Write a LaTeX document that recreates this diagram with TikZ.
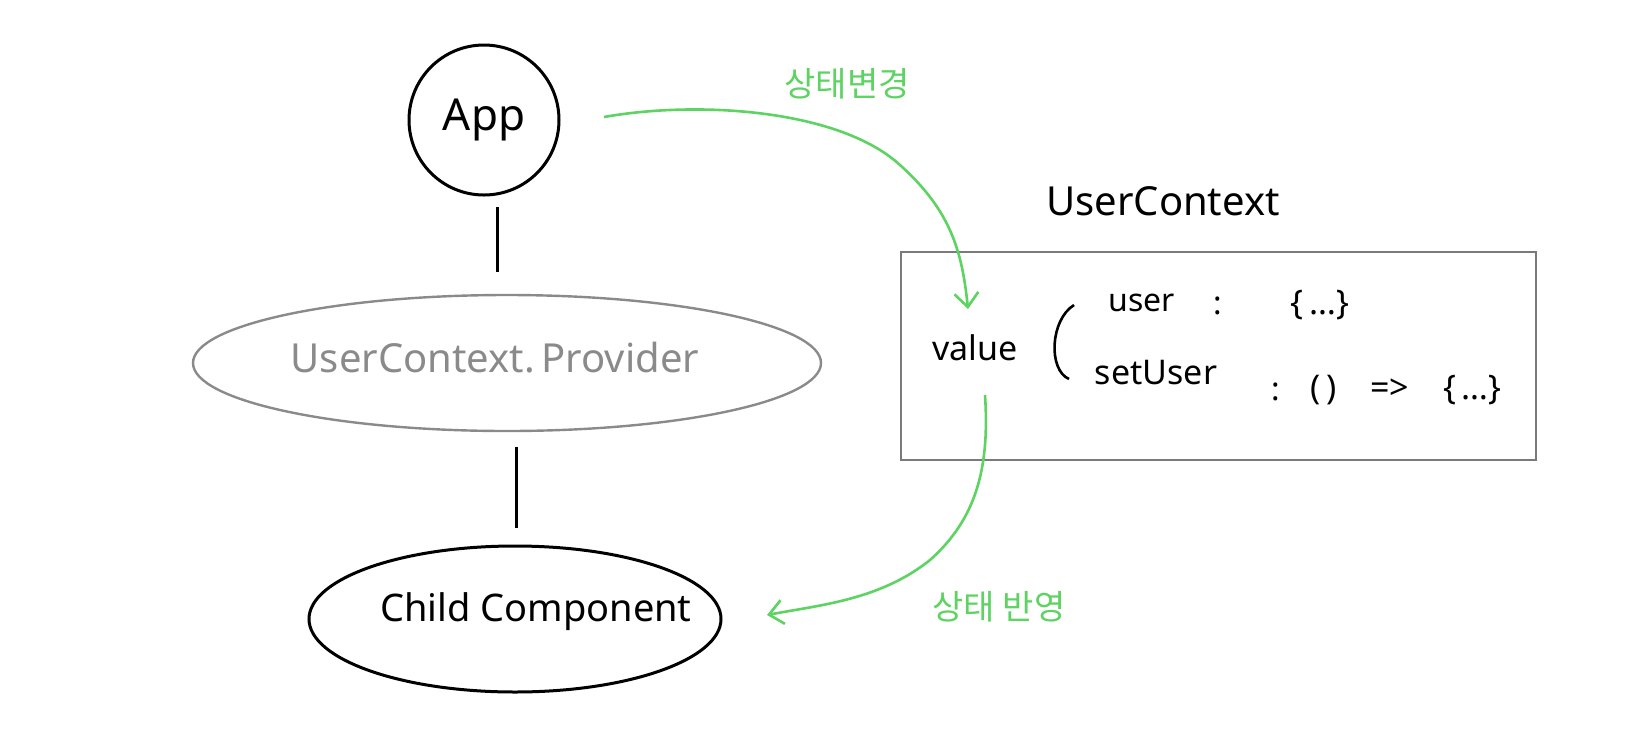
\documentclass[tikz,border=0pt]{standalone}
\usepackage{fontspec}
\setmainfont{Noto Sans}
\newfontfamily\kr{Noto Sans CJK KR}
\usetikzlibrary{arrows.meta,shapes.geometric}
\definecolor{hgreen}{HTML}{5DD362}
\definecolor{hgray}{HTML}{8A8A8A}
\definecolor{boxgray}{HTML}{7A7A7A}
\tikzset{
  blk/.style={draw=black, line width=1.5pt},
  greenarrow/.style={draw=hgreen, line width=1.3pt, -{Straight Barb[length=7pt,width=12pt,line width=1.3pt]}},
  lbl/.style={inner sep=0pt, text=black},
  grn/.style={inner sep=0pt, text=hgreen, font=\kr\fontsize{17}{20}\selectfont},
}
\begin{document}
\begin{tikzpicture}[x=0.5pt,y=-0.5pt]
\useasboundingbox (0,0) rectangle (1640,751);
% App circle
\node[circle, blk, minimum size=75pt, inner sep=0pt, font=\fontsize{22}{26}\selectfont] (app) at (484,120) {App};
% Provider
\node[ellipse, draw=hgray, line width=1.2pt, minimum width=314pt, minimum height=68pt, inner sep=0pt] (prov) at (507,363) {};
\node[lbl, text=hgray, font=\fontsize{20}{24}\selectfont] (provtxt) at (495,358) {UserContext.\,Provider};
% Child
\node[ellipse, blk, minimum width=206pt, minimum height=73pt, inner sep=0pt] (child) at (515,619) {};
\node[lbl, font=\fontsize{19}{22}\selectfont] (childtxt) at (536,612) {Child Component};
% connectors
\coordinate (l1a) at (497,207);
\coordinate (l1b) at (497,272);
\coordinate (l2a) at (516,447);
\coordinate (l2b) at (516,528);
\draw[blk] (l1a) -- (l1b);
\draw[blk] (l2a) -- (l2b);
% box
\node[draw=boxgray, line width=1.1pt, minimum width=317.5pt, minimum height=104pt, inner sep=0pt] (box) at (1218.5,356) {};
\node[lbl, font=\fontsize{20}{24}\selectfont] (ctx) at (1163,201) {UserContext};
\node[lbl, font=\fontsize{17}{20}\selectfont] (val) at (975,348) {value};
\draw[black, line width=1.3pt] (1074,305) .. controls (1050,320) and (1048,370) .. (1069,379);
\node[lbl, font=\fontsize{16}{19}\selectfont] (usr) at (1142,303) {user};
\node[lbl, font=\fontsize{16}{19}\selectfont] (c1) at (1218,306) {:};
\node[lbl, font=\fontsize{17}{20}\selectfont] (usrv) at (1320,305) {\{\,\dots\}};
\node[lbl, font=\fontsize{17}{20}\selectfont] (set) at (1156,373) {setUser};
\node[lbl, font=\fontsize{16}{19}\selectfont] (c2) at (1276,392) {:};
\node[lbl, font=\fontsize{17}{20}\selectfont] (setv) at (1406,390) {(\,)\quad =>\quad\{\,\dots\}};
% green arrows
\coordinate (g1s) at (604,117);
\coordinate (g1m) at (900,165);
\coordinate (g1e) at (968,309);
\draw[greenarrow] (g1s) .. controls (700,100) and (840,110) .. (g1m) .. controls (950,210) and (962,250) .. (g1e);
\coordinate (g2s) at (985,395);
\coordinate (g2m) at (930,560);
\coordinate (g2e) at (767,615);
\draw[greenarrow] (g2s) .. controls (990,470) and (975,520) .. (g2m) .. controls (880,600) and (820,605) .. (g2e);
\node[grn] (t1) at (847,84) {상태변경};
\node[grn] (t2) at (999,607) {상태 반영};
\end{tikzpicture}
\end{document}
